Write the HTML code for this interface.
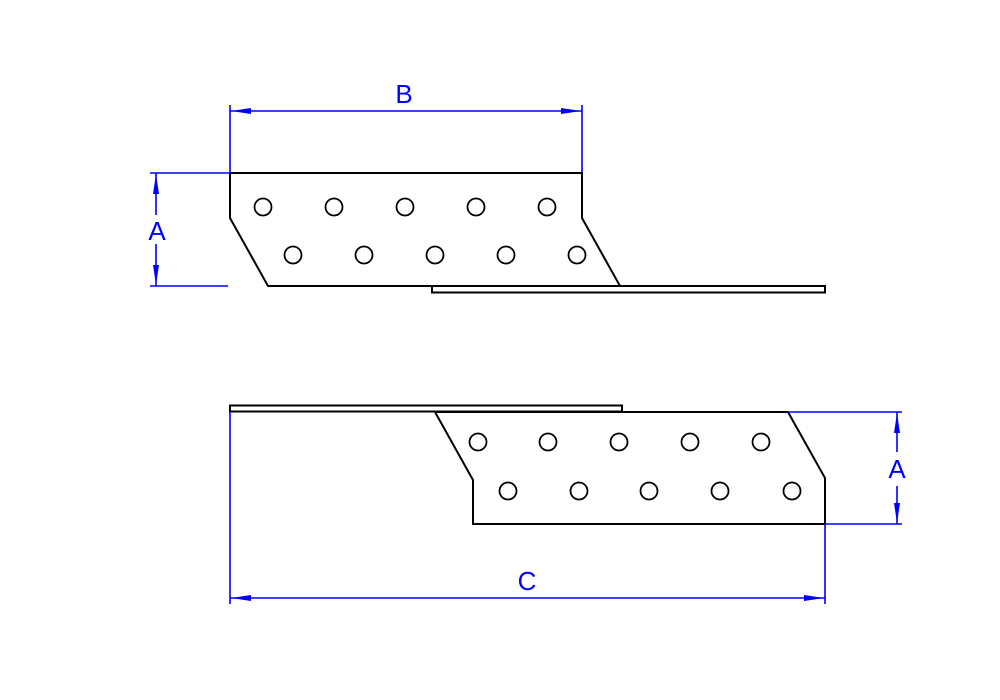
<!DOCTYPE html>
<html><head><meta charset="utf-8"><style>html,body{margin:0;padding:0;background:#fff}svg{display:block}</style></head>
<body>
<svg width="1000" height="700" viewBox="0 0 1000 700" xmlns="http://www.w3.org/2000/svg">
<g fill="none" stroke="#000" stroke-width="2">
<path d="M230,173 L582,173 L582,218 L620,286 L268,286 L230,218 Z" fill="#fff"/>
<rect x="432" y="286" width="393" height="6.5" fill="#fff"/>
<rect x="230" y="405.5" width="392" height="6" fill="#fff"/>
<path d="M435,412 L788,412 L825,478 L825,524 L473,524 L473,480 Z" fill="#fff"/>
<g stroke-width="1.8">
<circle cx="263" cy="207" r="8.5"/><circle cx="334" cy="207" r="8.5"/><circle cx="405" cy="207" r="8.5"/><circle cx="476" cy="207" r="8.5"/><circle cx="547" cy="207" r="8.5"/>
<circle cx="293" cy="255" r="8.5"/><circle cx="364" cy="255" r="8.5"/><circle cx="435" cy="255" r="8.5"/><circle cx="506" cy="255" r="8.5"/><circle cx="577" cy="255" r="8.5"/>
<circle cx="478" cy="442" r="8.5"/><circle cx="548" cy="442" r="8.5"/><circle cx="619" cy="442" r="8.5"/><circle cx="690" cy="442" r="8.5"/><circle cx="761" cy="442" r="8.5"/>
<circle cx="508" cy="491" r="8.5"/><circle cx="579" cy="491" r="8.5"/><circle cx="649" cy="491" r="8.5"/><circle cx="720" cy="491" r="8.5"/><circle cx="792" cy="491" r="8.5"/>
</g>
</g>
<g stroke="#0000ff" stroke-width="1.6" fill="none">
<path d="M230,105V173 M582,105V173 M230,111H582"/>
<path d="M150,173H230 M150,286H228 M156,173V215 M156,244V286"/>
<path d="M788,412H902 M825,524H902 M897,412V452 M897,486V524"/>
<path d="M230,412V604 M825,524V604 M230,598H825"/>
</g>
<g fill="#0000ff">
<path d="M231,111 l20,-3 v6 Z"/><path d="M581,111 l-20,-3 v6 Z"/>
<path d="M156,174 l-3,20 h6 Z"/><path d="M156,285 l-3,-20 h6 Z"/>
<path d="M897,413 l-3,20 h6 Z"/><path d="M897,523 l-3,-20 h6 Z"/>
<path d="M231,598 l20,-3 v6 Z"/><path d="M824,598 l-20,-3 v6 Z"/>
</g>
<g fill="#0000ff" font-family="Liberation Sans, sans-serif" font-size="26" text-anchor="middle">
<text x="404" y="103">B</text>
<text x="157" y="240">A</text>
<text x="897" y="478">A</text>
<text x="527" y="590">C</text>
</g>
</svg>
</body></html>
